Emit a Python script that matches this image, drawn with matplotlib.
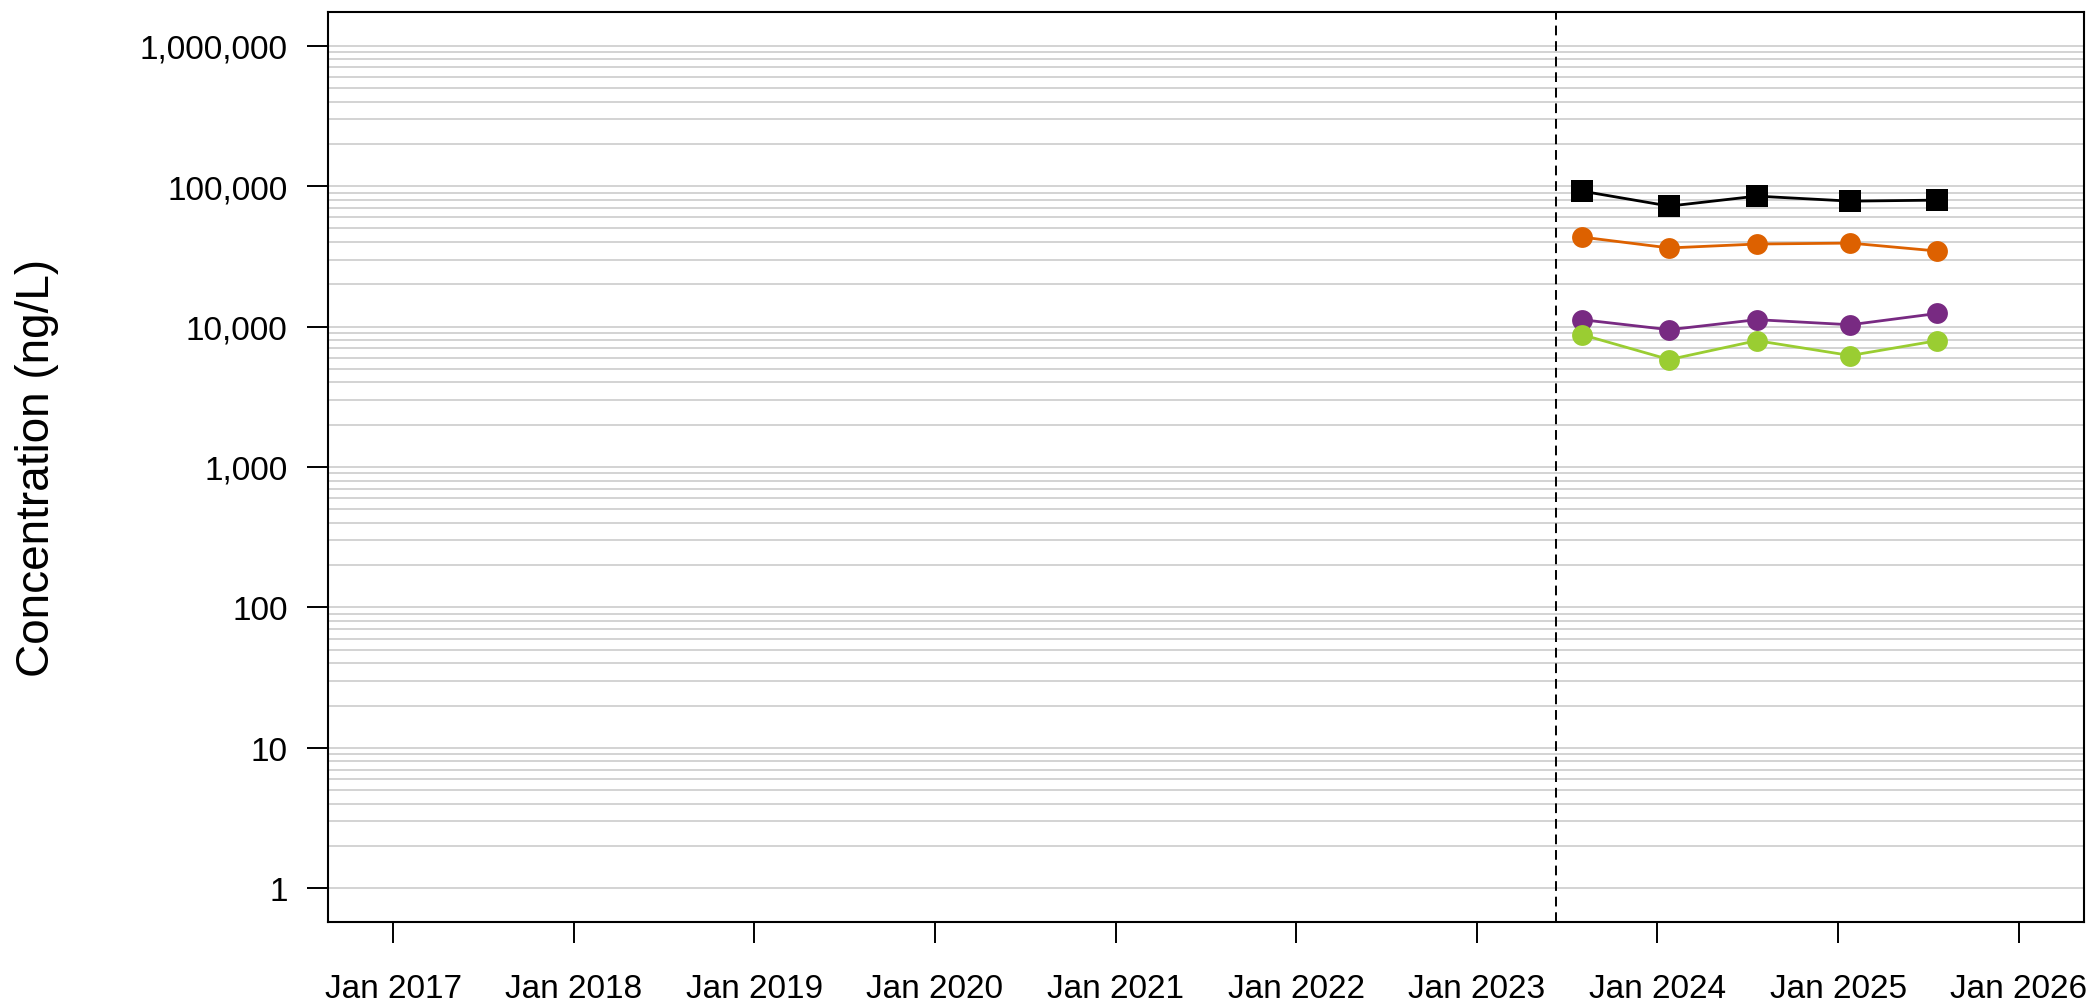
import numpy as np
import matplotlib
matplotlib.use("Agg")
import matplotlib.pyplot as plt
import matplotlib.dates as mdates
from matplotlib.ticker import FixedLocator, FuncFormatter

plt.rcParams["font.family"] = ["Liberation Sans", "DejaVu Sans"]

# sampling dates and concentrations (ng/L)
dates = np.array(["2023-08-01", "2024-01-25", "2024-07-20", "2025-01-25", "2025-07-20"],
                 dtype="datetime64[D]")
total = [92200, 72100, 84900, 78200, 79500]
orange = [43400, 36300, 38700, 39300, 34500]
purple = [11200, 9500, 11200, 10300, 12400]
green = [8770, 5820, 7940, 6220, 7940]
change_date = np.datetime64("2023-06-10")

x_start, x_end = np.datetime64("2017-01-01"), np.datetime64("2026-01-01")
year_ticks = np.arange(2017, 2027)
decades = [1, 10, 100, 1000, 10000, 100000, 1000000]

fig = plt.figure(figsize=(20.91, 10.04), dpi=100)
ax = fig.add_axes([328 / 2091, 1 - 923 / 1004, (2084 - 328) / 2091, (923 - 13) / 1004])

ax.set_yscale("log")
# R style 4% padding on both axes
lo, hi = np.log10(decades[0]), np.log10(decades[-1])
pad = 0.04 * (hi - lo)
ax.set_ylim(10 ** (lo - pad), 10 ** (hi + pad))
x0, x1 = mdates.date2num(x_start), mdates.date2num(x_end)
xpad = 0.04 * (x1 - x0)
ax.set_xlim(x0 - xpad, x1 + xpad)

# light grid at every 1..9 x 10^k
grid_vals = [m * d for d in decades[:-1] for m in range(1, 10)] + [decades[-1]]
for g in grid_vals:
    ax.axhline(g, color="#d3d3d3", lw=1.4, zorder=0)

ax.axvline(mdates.date2num(change_date), color="black", lw=1.4,
           dashes=(5, 3), zorder=1)

series = [
    (total, "black", "s", 16),
    (orange, "#dd6100", "o", 15),
    (purple, "#782a82", "o", 15),
    (green, "#9acd32", "o", 15),
]
xd = mdates.date2num(dates)
for vals, col, mk, ms in series:
    ax.plot(xd, vals, color=col, lw=2.0, marker=mk, markersize=ms,
            markeredgewidth=0, zorder=3)

ax.yaxis.set_major_locator(FixedLocator(decades))
ax.yaxis.set_minor_locator(FixedLocator([]))
ax.yaxis.set_major_formatter(FuncFormatter(lambda v, p: f"{int(round(v)):,}"))
tick_dates = [mdates.date2num(np.datetime64(f"{y}-01-01")) for y in year_ticks]
ax.xaxis.set_major_locator(FixedLocator(tick_dates))
ax.xaxis.set_major_formatter(FuncFormatter(lambda v, p: mdates.num2date(v).strftime("Jan %Y")))

ax.tick_params(axis="both", which="major", length=15, width=1.4, labelsize=24,
               direction="out", color="black")
ax.tick_params(axis="x", pad=22)
ax.tick_params(axis="y", pad=14)
for s in ax.spines.values():
    s.set_linewidth(1.5)
    s.set_color("black")

fig.text(37 / 2091, 1 - 468 / 1004, "Concentration (ng/L)", fontsize=33,
         rotation=90, ha="center", va="center")

fig.savefig("out.png", dpi=100)
